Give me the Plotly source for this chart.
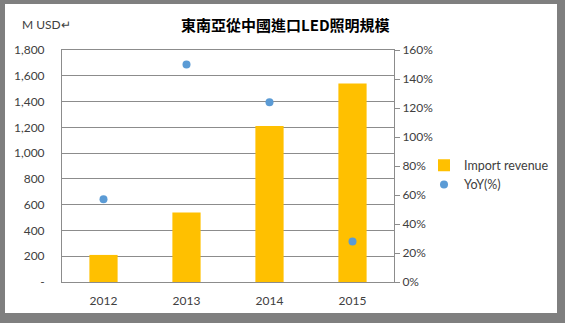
import plotly.graph_objects as go

# Data
years = ["2012", "2013", "2014", "2015"]
import_revenue = [210, 540, 1210, 1540]        # M USD
yoy = [0.57, 1.50, 1.24, 0.28]                  # growth rate
left_ticks = [0, 200, 400, 600, 800, 1000, 1200, 1400, 1600, 1800]
left_ticktext = ["-", "200", "400", "600", "800", "1,000", "1,200", "1,400", "1,600", "1,800"]

W, H = 565, 323
L, R, T, B = 62, 394, 50, 282   # plot area in pixels

def px(x):
    return (x - L) / (R - L)

def py(y):
    return (B - y) / (B - T)

FONT = "Lato, Open Sans, sans-serif"
TXT = "#404040"
GRID = "#8c8c8c"

fig = go.Figure()
fig.add_trace(go.Bar(
    x=years, y=import_revenue, name="Import revenue",
    marker=dict(color="#FFC000", line=dict(width=0)), width=0.34,
))
fig.add_trace(go.Scatter(
    x=years, y=yoy, name="YoY(%)", yaxis="y2", mode="markers",
    marker=dict(color="#5B9BD5", size=8),
))

# gray outer frame
border = "#7f7f7f"
shapes = []
for (x0, y0, x1, y1) in [(0, 0, 5, H), (557, 0, W, H), (0, 0, W, 4), (0, 313, W, H)]:
    shapes.append(dict(type="rect", xref="paper", yref="paper",
                       x0=px(x0), x1=px(x1), y0=py(y0), y1=py(y1),
                       fillcolor=border, line=dict(width=0), layer="above"))

fig.update_layout(
    width=W, height=H,
    margin=dict(l=L, r=W - R, t=T, b=H - B, autoexpand=False),
    paper_bgcolor="white", plot_bgcolor="white",
    font=dict(family=FONT, size=12, color=TXT),
    showlegend=True,
    legend=dict(x=px(424), y=py(175), xanchor="left", yanchor="middle",
                font=dict(size=12.5, color=TXT), bgcolor="rgba(0,0,0,0)",
                tracegroupgap=4, itemwidth=30),
    bargap=0.66,
    xaxis=dict(showgrid=False, showline=True, linecolor=GRID, linewidth=1,
               mirror=True, ticks="", tickfont=dict(size=12, color=TXT),
               ticklabelstandoff=8),
    yaxis=dict(range=[0, 1800], tickvals=left_ticks, ticktext=left_ticktext,
               showgrid=True, gridcolor=GRID, gridwidth=1,
               showline=True, linecolor=GRID, linewidth=1,
               ticks="", tickfont=dict(size=12, color=TXT),
               ticklabelstandoff=14, zeroline=False),
    yaxis2=dict(range=[0, 1.6], dtick=0.2, tickformat=".0%", overlaying="y",
                side="right", showgrid=False, showline=True, linecolor=GRID,
                linewidth=1, ticks="outside", ticklen=5, tickcolor=GRID,
                tickfont=dict(size=12, color=TXT), zeroline=False),
    shapes=shapes,
    annotations=[
        dict(text="<b>東南亞從中國進口LED照明規模</b>", xref="paper", yref="paper",
             x=px(285), y=py(24), xanchor="center", yanchor="middle",
             showarrow=False,
             font=dict(family="Noto Sans CJK TC, sans-serif", size=15, color="#000000")),
        dict(text="M USD↵", xref="paper", yref="paper",
             x=px(20), y=py(24), xanchor="left", yanchor="middle",
             showarrow=False, font=dict(family=FONT, size=12, color=TXT)),
    ],
)

fig.write_html("out.html")
